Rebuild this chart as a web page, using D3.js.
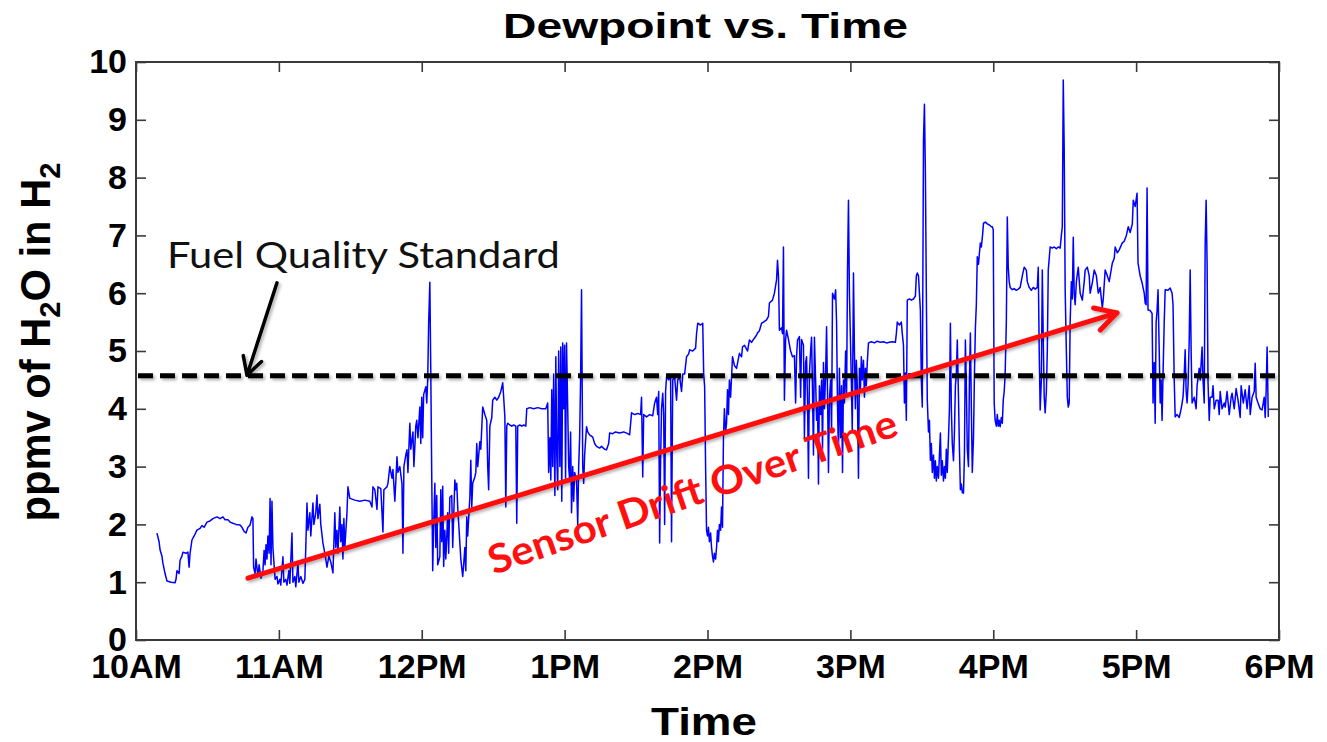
<!DOCTYPE html>
<html>
<head>
<meta charset="utf-8">
<script src="https://cdn.jsdelivr.net/npm/d3@7"></script>
<style>
body { margin: 0; background: #fff; }
text { font-family: "Liberation Sans", Arial, sans-serif; }
</style>
</head>
<body>
<svg id="chart" width="1327" height="742"></svg>
<script>
// tick labels
var hourLabels = ["10AM", "11AM", "12PM", "1PM", "2PM", "3PM", "4PM", "5PM", "6PM"];
var ppmvTicks = [0, 1, 2, 3, 4, 5, 6, 7, 8, 9, 10];

// fuel quality limit (ppmv)
var standardPpmv = 4.57;

// dewpoint readings, one list per hour: [minute within hour, ppmv]
var h10 = [[8.8,1.85],[9.7,1.7],[10.1,1.56],[10.9,1.45],[11.3,1.33],[12.2,1.15],[13,1.02],[14.7,1],[16.4,0.99],
  [16.8,1.05],[17.2,1.2],[18.1,1.15],[18.5,1.38],[19.3,1.45],[19.7,1.52],[21,1.5],[21.8,1.52],[22.3,1.26],
  [22.7,1.5],[23.5,1.73],[24.4,1.8],[25.6,1.9],[26.9,1.93],[27.7,1.98],[28.6,1.95],[29.8,2.04],[31.1,2.06],
  [32.3,2.1],[34,2.13],[35.3,2.1],[36.5,2.13],[37.4,2.08],[38.6,2.08],[39.5,2.04],[40.7,2.02],[42,2],
  [43.7,1.99],[44.5,1.95],[45.4,1.88],[46.2,1.85],[47,1.95],[47.9,1.99],[48.7,2.13],[49.1,2.1],[49.4,1.26],
  [50,1.15],[50.4,1.4],[51.2,1.1],[51.7,1.3],[52.5,1.07],[53.3,1.2],[53.8,1.55],[54.2,1.3],[54.6,1.65],
  [55,1.4],[55.4,1.8],[55.9,1.5],[56.3,2.45],[56.7,1.3],[57.1,2.4],[57.5,1.6],[58,1.3],[58.4,1.05],
  [59.2,1.1],[59.6,0.97]];
var h11 = [[0.4,1.05],[0.8,0.95],[1.7,1.44],[2.1,1],[2.9,1.05],[3.4,0.95],[4.2,1.2],[4.6,0.98],[5.5,1.85],
  [5.9,1],[6.7,1.1],[7.1,0.92],[8,1.33],[8.4,1],[9.2,1.1],[10.1,0.98],[10.9,1.05],[11.3,1.6],[11.8,2.37],
  [12.2,1.9],[13,2.2],[13.4,1.8],[14.3,2.37],[14.7,2],[15.5,2.2],[16,2.51],[16.4,2.1],[17.2,2.35],[17.6,2],
  [18.5,1.68],[19.3,1.5],[20.2,1.26],[21,1.45],[21.8,1.35],[22.7,1.16],[23.5,2.2],[23.9,1.6],[24.4,1.9],
  [24.8,1.5],[25.6,2.3],[26,1.7],[26.5,2],[26.9,1.4],[27.3,2.1],[27.7,1.6],[28.6,2.2],[29,2.65],[29.8,2.45],
  [31.9,2.42],[34,2.4],[36.1,2.42],[38.2,2.4],[39.1,2.3],[39.5,2.65],[40.3,2.6],[41.2,2.26],[41.6,2.65],
  [42.8,2.62],[43.7,1.87],[44.1,2.6],[45.4,2.65],[45.8,2.71],[46.6,3],[47.5,2.8],[47.9,2.95],[48.7,2.4],
  [49.6,3.17],[50,2.9],[50.8,3],[51.7,2.7],[52.1,1.5],[52.5,3],[53.3,3.2],[53.8,3.29],[54.2,2.9],[55,3.75],
  [55.4,3.3],[56.3,3.6],[56.7,3],[57.5,3.7],[57.9,3.8],[58.4,3.5],[59.2,4.03],[59.6,3.4]];
var h12 = [[0,4.2],[0.4,3.5],[0.8,4.25],[1.7,4.38],[2.1,4.1],[2.5,4.5],[2.9,5.48],[3.4,6.19],[3.8,4.6],
  [4.2,2.8],[4.6,1.2],[5,2],[5.5,2.71],[5.9,1.6],[6.3,2.5],[6.7,1.3],[7.6,1.44],[8,2.6],[8.4,1.7],[8.8,2.66],
  [9.2,1.27],[9.7,1.9],[10.1,1.4],[10.5,1.78],[10.9,2.2],[11.3,1.5],[11.8,2.47],[12.6,2.5],[13,1.6],
  [13.9,2.77],[14.3,2.6],[14.7,2.71],[15.1,2.3],[16,1.68],[16.4,1.4],[17.2,1.1],[17.6,1.3],[18.1,1.6],
  [18.5,1.2],[18.9,2.13],[19.3,1.8],[20.2,2.47],[20.6,3.11],[21,2.3],[21.4,2.71],[22.3,2.82],[22.7,2.9],
  [23.1,3.4],[23.5,3],[24.4,3.43],[24.8,3.3],[25.6,4.03],[26.5,3.9],[27.3,3.8],[27.7,3],[28.1,2.6],
  [28.6,3.7],[29.4,3.85],[29.8,4.15],[30.7,4.2],[31.5,4.15],[32.3,4.2],[33.2,4.3],[34,4.45],[34.4,4.2],
  [34.9,3.86],[35.3,2.3],[35.7,3.7],[36.1,3.75],[37,3.72],[37.8,3.7],[38.6,3.72],[39.5,3.7],[39.9,2.02],
  [40.3,3.7],[41.2,3.72],[42,3.7],[42.8,3.72],[43.7,3.7],[44.1,4],[45.4,4.02],[47,4],[48.7,4.02],[50.4,4],
  [52.1,4],[52.9,4.1],[53.3,2.9],[53.8,3.5],[54.2,2.77],[54.6,4.33],[55,3],[55.4,4.6],[55.9,2.5],[56.3,4.9],
  [56.7,3.2],[57.1,2.6],[57.5,5],[58,3],[58.4,5.07],[58.8,2.4],[59.2,5.14],[59.6,4]];
var h13 = [[0,5.1],[0.4,2.8],[0.8,5.14],[1.3,4],[1.7,3],[2.1,2.77],[2.5,3.6],[2.9,2.2],[3.4,3],[3.8,2.4],
  [4.2,2.9],[5,2.77],[5.5,2],[5.9,3],[6.3,3.5],[6.7,4.5],[7.1,6.06],[7.6,3],[8,2.71],[8.4,3.2],[9.2,3.69],
  [9.7,3.6],[10.5,3.55],[11.8,3.51],[12.6,3.4],[13.4,3.35],[14.7,3.32],[15.5,3.35],[16.8,3.3],[17.6,3.29],
  [18.5,3.4],[18.9,3.58],[20.2,3.57],[21.4,3.6],[23.1,3.58],[24.8,3.6],[26.5,3.57],[27.3,3.55],[28.1,3.93],
  [29.4,3.9],[30.7,3.92],[31.9,3.9],[32.3,4.2],[32.8,2.82],[33.2,3.9],[34.4,3.86],[35.7,3.9],[37,3.88],
  [37.8,4.1],[38.6,4.2],[39.1,3.9],[39.5,4.3],[39.9,1.68],[40.3,3.1],[40.7,4],[41.2,4.27],[41.6,3.9],
  [42,2],[42.4,4.3],[42.8,4.55],[43.7,4.5],[44.5,4.57],[44.9,1.7],[45.4,4.5],[46.2,4.55],[47,4.15],
  [47.5,4.5],[48.3,4.55],[49.1,4.3],[49.6,4.6],[50.4,4.6],[51.2,4.9],[52.1,4.95],[52.5,5.02],[53.8,5],
  [55,5.05],[55.4,5.3],[55.9,5.48],[57.1,5.45],[58,5.48],[58.4,4.6],[58.8,4.38],[59.2,3],[59.6,1.9]];
var h14 = [[0,1.8],[0.4,1.95],[0.8,1.7],[1.3,1.85],[1.7,1.6],[2.1,1.45],[2.5,1.35],[2.9,1.5],[3.4,1.4],
  [3.8,1.6],[4.2,1.9],[4.6,1.7],[5,2],[5.5,1.9],[5.9,2.3],[6.3,1.95],[6.7,3.5],[7.1,4],[7.6,3.6],[8,3.75],
  [8.4,4.33],[8.8,3.9],[9.2,4.5],[9.7,4.2],[10.5,4.9],[11.3,4.75],[12.2,4.7],[13.4,4.96],[14.3,4.9],
  [14.7,5.07],[15.5,5.1],[16.8,5],[17.6,5.19],[18.5,5.15],[19.3,5.2],[20.2,5.25],[21,5.31],[21.8,5.35],
  [22.7,5.48],[23.5,5.5],[24.8,5.54],[25.6,5.6],[26,5.83],[27.3,5.88],[28.1,6],[29,6.23],[29.4,6.57],
  [29.8,6.3],[30.2,5.36],[31.1,5.4],[31.5,5.3],[31.9,6.8],[32.3,4.15],[32.8,5.2],[33.2,5.36],[34,5.2],
  [34.9,5],[35.7,4.9],[36.5,4.92],[37,4.1],[37.4,4.9],[37.8,5.19],[38.6,5.25],[39.1,4.2],[39.5,5.2],
  [40.3,5.1],[40.7,3.5],[41.2,4.8],[41.6,4.9],[42,4.15],[42.4,2.8],[42.8,4.6],[43.3,5],[43.7,5.24],
  [44.1,4.3],[44.5,3.2],[44.9,5.24],[45.4,4.5],[45.8,3.8],[46.2,4.1],[46.6,2.7],[47,4.4],[47.5,3.9],
  [47.9,4.5],[48.3,3.3],[48.7,4.8],[49.1,4],[49.6,4.6],[50,5.42],[50.4,4.3],[50.8,2.9],[51.2,4.15],
  [51.7,4.5],[52.1,3.6],[52.5,6],[53.3,5.9],[53.8,6.06],[54.2,5.5],[54.6,4.03],[55,3.2],[55.4,4.7],
  [55.9,3.5],[56.3,4.4],[56.7,2.9],[57.1,4.5],[57.5,4.1],[58,5],[58.4,4.2],[58.8,6.4],[59.2,7.61],[59.6,6]];
var h15 = [[0.4,4.5],[0.8,3.6],[1.3,6.35],[1.7,5],[2.1,4],[2.5,4.84],[2.9,4.4],[3.4,2.8],[3.8,4.7],
  [4.2,4.3],[4.6,4.9],[5,4.5],[5.5,4.84],[5.9,4.2],[6.3,4.7],[6.7,4.4],[7.1,4.8],[7.6,5.14],[8.8,5.16],
  [10.1,5.14],[11.3,5.17],[12.6,5.15],[13.9,5.16],[15.1,5.14],[16.4,5.15],[17.6,5.16],[18.9,5.15],
  [19.3,5.3],[19.7,5.5],[20.6,5.45],[21.4,5.5],[21.8,5.3],[22.3,5.1],[22.7,4.1],[23.1,4.62],[23.5,3.8],
  [23.9,5.88],[24.8,5.9],[25.6,5.88],[26.5,5.9],[27.3,5.95],[27.7,6.3],[28.1,6.35],[28.6,6.3],[29,6],
  [29.4,5.7],[29.8,4.5],[30.2,4.03],[30.7,8.65],[31.1,9.27],[31.5,8.08],[31.9,6],[32.3,4.15],[32.8,3.6],
  [33.2,3.8],[33.6,3.11],[34,3.4],[34.4,2.9],[34.9,3.2],[35.3,2.8],[35.7,3.1],[36.1,2.75],[36.5,3],
  [37,2.8],[37.4,3.2],[37.8,3.58],[38.2,2.85],[38.6,3.1],[39.1,2.75],[39.5,3],[39.9,2.8],[40.3,3.3],
  [40.7,2.9],[41.2,3.5],[41.6,4],[42,5.48],[42.4,4],[42.8,3.4],[43.3,3.1],[43.7,3.6],[44.1,4.4],[44.5,4.6],
  [44.9,5.19],[45.4,4.2],[45.8,3.3],[46.2,2.6],[46.6,2.7],[47,2.55],[47.5,2.54],[47.9,3.2],[48.3,5.19],
  [48.7,4.4],[49.1,3.3],[49.6,3],[50,4.5],[50.4,5.31],[50.8,4],[51.2,2.9],[51.7,3.5],[52.1,4.6],[52.5,5.4],
  [52.9,5.8],[53.3,6.63],[53.8,6.5],[54.2,6.7],[54.6,6.87],[55,6.8],[55.5,7],[55.9,7.21],[56.7,7.23],
  [57.5,7.2],[58.4,7.18],[59.2,7.15],[59.6,7.15]];
var h16 = [[0,7.1],[0.4,4.1],[0.8,3.8],[1.3,3.7],[1.7,3.9],[2.1,3.7],[2.5,3.8],[2.9,3.69],[3.4,3.85],
  [3.8,3.75],[4.2,4.15],[4.6,4.3],[5,4.6],[5.5,5.5],[5.9,7.32],[6.3,6.45],[6.7,6.2],[7.1,6.1],[8,6.06],
  [8.8,6.08],[9.7,6.05],[10.5,6.07],[11.3,6.1],[12.2,6.3],[13,6.45],[13.9,6.4],[14.3,6.2],[15.1,6.1],
  [16,6.05],[16.8,6.1],[17.6,6.07],[18.5,6.1],[18.9,6.45],[19.3,5],[19.7,3.98],[20.2,4.5],[20.6,6.4],
  [21,5.2],[21.4,4.2],[21.8,3.93],[22.3,4.3],[22.7,5],[23.1,6.4],[23.9,6.8],[24.8,6.78],[25.6,6.8],
  [26.5,6.77],[27.3,6.8],[28.1,6.78],[28.6,7],[29,7.15],[29.4,9.69],[29.8,8.48],[30.2,6.06],[30.7,5],
  [31.1,4.2],[31.5,4.03],[31.9,4.1],[32.3,5.5],[32.8,6.2],[33.2,5.9],[33.6,6.97],[34,6],[34.4,5.8],
  [34.9,6.2],[35.7,6.45],[36.5,6],[37.4,5.88],[38.2,6.2],[38.6,6.4],[39.5,6.45],[40.3,6.3],[40.7,6],
  [41.6,6.18],[42.4,6.4],[43.3,6.3],[44.1,6],[44.9,6.1],[45.8,5.74],[46.2,5.9],[47,6.4],[47.9,6.3],
  [48.7,6.2],[50,6.52],[50.8,6.6],[51.2,6.8],[52.1,6.7],[52.9,6.75],[54.2,6.87],[55,6.9],[55.9,7],
  [56.7,7.15],[57.5,7.05],[58.4,7.2],[58.8,7.61],[59.6,7.5]];
var h17 = [[0.4,7.73],[0.8,6.52],[1.7,6.3],[2.5,6.18],[3.4,6],[3.8,5.83],[4.2,5.8],[4.6,7.82],[5,5.71],
  [5.9,5.7],[6.7,5.65],[7.1,4.1],[7.6,4.8],[8,3.75],[8.4,5.5],[8.8,5.7],[9.2,6.06],[9.7,5],[10.1,4.1],
  [10.5,4.5],[10.9,3.8],[11.3,4.6],[11.8,5.5],[12.2,6.06],[13.4,6.05],[14.3,6.09],[15.1,6],[15.5,5.8],
  [16,4.5],[16.4,3.86],[17.2,3.9],[18.1,3.85],[18.9,4],[19.7,4.2],[20.2,4.6],[20.6,5.02],[21,4.3],
  [21.4,4.1],[21.8,4.4],[22.3,5.2],[22.7,6.4],[23.1,5],[23.5,4.1],[24.4,4.2],[25.2,4],[25.6,4.4],
  [26.5,4.7],[26.9,4.5],[27.7,5.07],[28.1,4.5],[28.6,4.1],[29,6.87],[29.4,7.61],[29.8,6.52],[30.2,4.45],
  [30.7,3.8],[31.1,4.2],[31.9,4.2],[32.3,4.4],[32.8,4],[33.6,4.15],[34.4,4.15],[34.9,3.9],[35.3,4.3],
  [36.1,4],[37,4.1],[37.4,4.03],[38.2,4.3],[39.1,3.9],[39.9,4.2],[40.3,4.27],[41.2,4],[42,4.35],
  [42.8,4.15],[43.7,3.85],[44.1,4.4],[45,4.1],[45.8,4.33],[46.6,4],[47.5,4.4],[47.9,3.9],[48.7,4.2],
  [49.6,4.3],[50,4.79],[50.4,4.2],[51.2,4.1],[52.1,4],[52.9,3.98],[53.8,4.2],[54.2,3.85],[54.6,4.3],
  [55,5.07],[55.5,3.86]];
var hours = [h10, h11, h12, h13, h14, h15, h16, h17];

// annotation arrows in data units: [minutes after 10AM, ppmv]
var driftArrow = [[47.0, 1.07], [412.0, 5.66]];
var standardArrow = [[59.2, 6.18], [46.6, 4.58]];

var readings = [];
hours.forEach(function(list, i) {
	list.forEach(function(p) {
		readings.push({t: i * 60 + p[0], v: p[1]});
	});
});

var svg = d3.select("#chart");

var x = d3.scaleLinear().domain([0, 480]).range([136, 1279]);
var y = d3.scaleLinear().domain([0, 10]).range([640, 62]);

// soft drop shadow like the slide annotations
var defs = svg.append("defs");
var shadow = defs.append("filter").attr("id", "shadow")
	.attr("filterUnits", "userSpaceOnUse")
	.attr("x", 0).attr("y", 0).attr("width", 1327).attr("height", 742);
shadow.append("feDropShadow").attr("dx", 2).attr("dy", 2)
	.attr("stdDeviation", 1.5).attr("flood-color", "#000").attr("flood-opacity", 0.3);

// data line
var line = d3.line()
	.x(function(d) { return x(d.t); })
	.y(function(d) { return y(d.v); });

svg.append("path")
	.datum(readings)
	.attr("d", line)
	.attr("fill", "none")
	.attr("stroke", "#0000ff")
	.attr("stroke-width", 1.5)
	.attr("stroke-linejoin", "round");

// axes (matlab style, ticks pointing in)
var hourTicks = d3.range(0, 481, 60);

var xAxis = d3.axisBottom(x).tickValues(hourTicks)
	.tickFormat(function(d, i) { return hourLabels[i]; })
	.tickSizeInner(-10).tickSizeOuter(0).tickPadding(14);
var xTop = d3.axisTop(x).tickValues(hourTicks).tickFormat("")
	.tickSizeInner(-10).tickSizeOuter(0);
var yAxis = d3.axisLeft(y).tickValues(ppmvTicks)
	.tickSizeInner(-10).tickSizeOuter(0).tickPadding(9);
var yRight = d3.axisRight(y).tickValues(ppmvTicks).tickFormat("")
	.tickSizeInner(-10).tickSizeOuter(0);

function styleAxis(g) {
	g.select(".domain").remove();
	g.selectAll(".tick line").attr("stroke", "#3a3a3a").attr("stroke-width", 1.6);
	g.selectAll("text")
		.attr("fill", "#000")
		.style("font-family", "'Liberation Sans', Arial, sans-serif")
		.style("font-weight", "bold")
		.style("font-size", "34px");
}

svg.append("g").attr("transform", "translate(0,640)").call(xAxis).call(styleAxis);
svg.append("g").attr("transform", "translate(0,62)").call(xTop).call(styleAxis);
svg.append("g").attr("transform", "translate(136,0)").call(yAxis).call(styleAxis);
svg.append("g").attr("transform", "translate(1279,0)").call(yRight).call(styleAxis);

svg.append("rect")
	.attr("x", 136).attr("y", 62)
	.attr("width", 1279 - 136).attr("height", 640 - 62)
	.attr("fill", "none")
	.attr("stroke", "#3a3a3a")
	.attr("stroke-width", 2);

// fuel quality standard line
svg.append("line")
	.attr("x1", x(0) + 2).attr("x2", x(480) - 2)
	.attr("y1", y(standardPpmv)).attr("y2", y(standardPpmv))
	.attr("stroke", "#000")
	.attr("stroke-width", 5)
	.attr("stroke-dasharray", "15,7")
	.attr("filter", "url(#shadow)");

// arrow with open chevron head
function drawArrow(pts, color, width, headLen) {
	var x1 = x(pts[0][0]), y1 = y(pts[0][1]);
	var x2 = x(pts[1][0]), y2 = y(pts[1][1]);
	var ang = Math.atan2(y2 - y1, x2 - x1);
	var a1 = ang + Math.PI - 0.5, a2 = ang + Math.PI + 0.5;
	var path = d3.path();
	path.moveTo(x1, y1);
	path.lineTo(x2, y2);
	path.moveTo(x2 + headLen * Math.cos(a1), y2 + headLen * Math.sin(a1));
	path.lineTo(x2, y2);
	path.lineTo(x2 + headLen * Math.cos(a2), y2 + headLen * Math.sin(a2));
	svg.append("path")
		.attr("d", path.toString())
		.attr("fill", "none")
		.attr("stroke", color)
		.attr("stroke-width", width)
		.attr("stroke-linecap", "round")
		.attr("stroke-linejoin", "round")
		.attr("filter", "url(#shadow)");
}

drawArrow(driftArrow, "#ff1010", 5, 24);
drawArrow(standardArrow, "#000", 3.5, 20);

// stretch a text to a given length along its own baseline
function placeText(sel, cx, cy, angle, targetLen) {
	var w = sel.node().getComputedTextLength();
	var s = targetLen / w;
	sel.attr("transform", "translate(" + cx + "," + cy + ") rotate(" + angle + ") scale(" + s + ",1)");
}

// titles
var title = svg.append("text")
	.attr("text-anchor", "middle")
	.style("font-weight", "bold").style("font-size", "35px")
	.text("Dewpoint vs. Time");
placeText(title, 705.5, 38, 0, 405);

var xTitle = svg.append("text")
	.attr("text-anchor", "middle")
	.style("font-weight", "bold").style("font-size", "39px")
	.text("Time");
placeText(xTitle, 704, 735, 0, 106);

var yTitle = svg.append("text")
	.attr("text-anchor", "middle")
	.style("font-weight", "bold").style("font-size", "43px");
yTitle.append("tspan").text("ppmv of H");
yTitle.append("tspan").attr("dy", 10).style("font-size", "30px").text("2");
yTitle.append("tspan").attr("dy", -10).text("O in H");
yTitle.append("tspan").attr("dy", 10).style("font-size", "30px").text("2");
placeText(yTitle, 50, 342, -90, 359);

// annotations
var fuelLabel = svg.append("text")
	.attr("text-anchor", "start")
	.attr("fill", "#111")
	.style("font-family", "Lato, 'Open Sans', sans-serif")
	.style("font-size", "37px")
	.text("Fuel Quality Standard");
placeText(fuelLabel, 167, 268, 0, 393);

var driftLabel = svg.append("text")
	.attr("text-anchor", "middle")
	.attr("fill", "#ff1010")
	.style("font-family", "Lato, 'Open Sans', sans-serif")
	.style("font-weight", "bold")
	.style("font-size", "40px")
	.text("Sensor Drift Over Time");
placeText(driftLabel, 697, 505, -19, 430);
</script>
</body>
</html>
